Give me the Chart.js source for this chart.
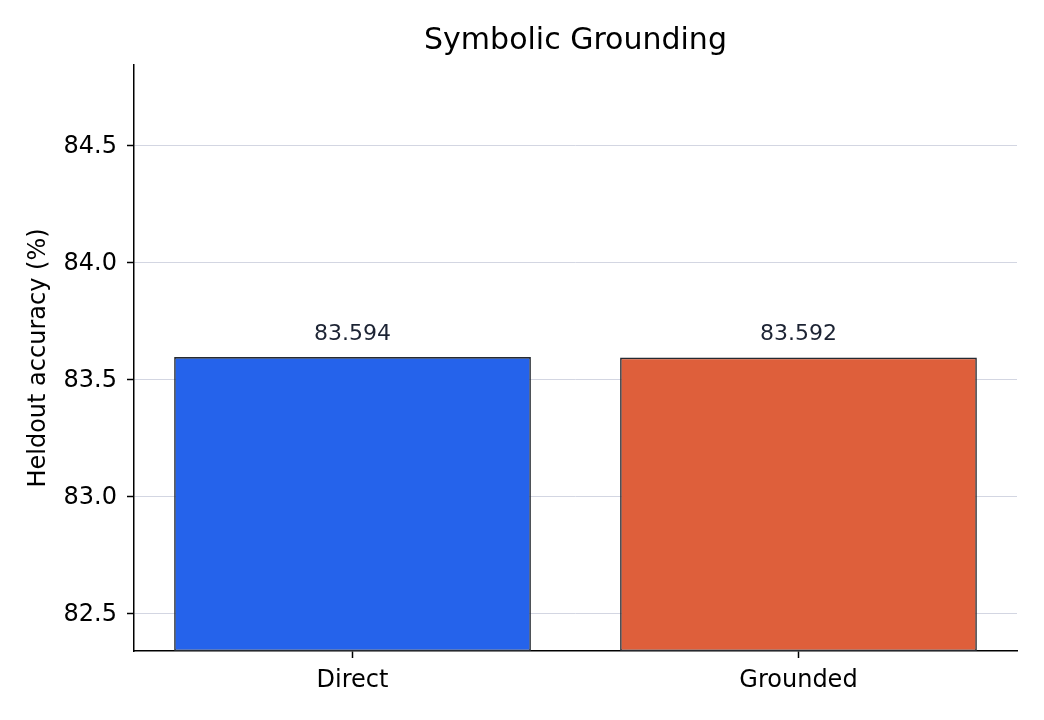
<!DOCTYPE html>
<html>
<head>
<meta charset="utf-8">
<script src="https://cdn.jsdelivr.net/npm/chart.js@4"></script>
<style>
  body { margin: 0; background: #fff; }
  canvas { display: block; }
</style>
</head>
<body>
<canvas id="chart1" width="1044" height="720"></canvas>
<script>
const categories = ['Direct', 'Grounded'];
const accuracy = [83.594, 83.592];
const barColors = ['#2563EB', '#DE5F3B'];
const yTicks = [82.5, 83.0, 83.5, 84.0, 84.5];
const yMin = 82.338;
const yMax = 84.842;

const font = "'DejaVu Sans', sans-serif";

// title + value labels drawn on top of the bars
const extras = {
  id: 'extras',
  afterDatasetsDraw(chart) {
    const ctx = chart.ctx;
    const area = chart.chartArea;
    ctx.save();
    ctx.fillStyle = '#000';
    ctx.font = '30px ' + font;
    ctx.textAlign = 'center';
    ctx.textBaseline = 'middle';
    ctx.fillText('Symbolic Grounding', (area.left + area.right) / 2, 41);

    ctx.fillStyle = '#1c2333';
    ctx.font = '22px ' + font;
    ctx.textBaseline = 'bottom';
    chart.getDatasetMeta(0).data.forEach((bar, i) => {
      ctx.fillText(accuracy[i].toFixed(3), bar.x, bar.y - 12);
    });
    ctx.restore();
  }
};

new Chart(document.getElementById('chart1'), {
  type: 'bar',
  data: {
    datasets: [{
      data: accuracy.map((v, i) => ({ x: i, y: v })),
      base: yMin,
      backgroundColor: barColors,
      borderColor: '#262a31',
      borderWidth: 1.6,
      borderSkipped: false,
      categoryPercentage: 1,
      barPercentage: 0.8
    }]
  },
  options: {
    responsive: false,
    animation: false,
    layout: { padding: { top: 65, right: 27, left: 0, bottom: 0 } },
    plugins: {
      legend: { display: false },
      tooltip: { enabled: false }
    },
    scales: {
      x: {
        type: 'linear',
        min: -0.49,
        max: 1.49,
        offset: false,
        afterFit(scale) { scale.height = 69; },
        afterBuildTicks(scale) { scale.ticks = categories.map((c, i) => ({ value: i })); },
        grid: { drawOnChartArea: false, offset: false, tickColor: '#000', tickLength: 7, tickWidth: 1.5 },
        border: { color: '#000', width: 1.5 },
        ticks: {
          color: '#000',
          font: { family: font, size: 24 },
          padding: 8,
          callback: v => categories[v]
        }
      },
      y: {
        min: yMin,
        max: yMax,
        afterFit(scale) { scale.width = 134; },
        afterBuildTicks(scale) { scale.ticks = yTicks.map(v => ({ value: v })); },
        grid: { color: '#d3d6e2', lineWidth: 1, tickColor: '#000', tickLength: 7, tickWidth: 1.5 },
        border: { color: '#000', width: 1.5 },
        ticks: {
          color: '#000',
          font: { family: font, size: 24 },
          padding: 10,
          labelOffset: 2,
          callback: v => v.toFixed(1)
        },
        title: {
          display: true,
          text: 'Heldout accuracy (%)',
          color: '#000',
          font: { family: font, size: 24 },
          padding: { top: 24, bottom: 0 }
        }
      }
    }
  },
  plugins: [extras]
});
</script>
</body>
</html>
